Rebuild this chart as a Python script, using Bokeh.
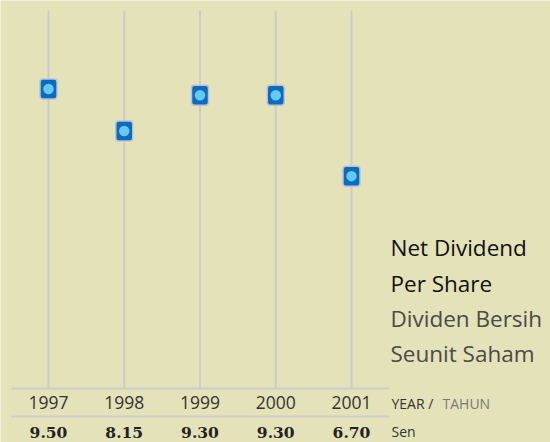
from bokeh.plotting import figure
from bokeh.models import ColumnDataSource, Range1d
from bokeh.embed import file_html
from bokeh.resources import INLINE
from bokeh.core.properties import value

years = [1997, 1998, 1999, 2000, 2001]
year_labels = ["1997", "1998", "1999", "2000", "2001"]
dividends = [9.50, 8.15, 9.30, 9.30, 6.70]
value_labels = ["9.50", "8.15", "9.30", "9.30", "6.70"]
title_en = ["Net Dividend", "Per Share"]
title_my = ["Dividen Bersih", "Seunit Saham"]

BG = "#e4e2b8"
W, H = 550, 442
px_x = 75.75
px_y = 31.1
x0 = 1997 - 48 / px_x
y0 = -58 / px_y

def xpix(img_x):
    return x0 + img_x / px_x

def ypix(img_y):
    return y0 + (H - img_y) / px_y

p = figure(width=W, height=H, output_backend="svg", toolbar_location=None,
           x_range=Range1d(x0, x0 + W / px_x), y_range=Range1d(y0, y0 + H / px_y),
           min_border=0, outline_line_color=None,
           background_fill_color=BG, border_fill_color=BG)
p.axis.visible = False
p.grid.visible = False

src = ColumnDataSource(dict(x=years, y=dividends, yl=year_labels, vl=value_labels))

p.segment(x0=years, x1=years, y0=[ypix(10)] * 5, y1=[ypix(388)] * 5,
          line_color="#cbcbcb", line_width=2)

p.segment(x0=[xpix(11)] * 2, x1=[xpix(389)] * 2, y0=[ypix(388), ypix(416)],
          y1=[ypix(388), ypix(416)], line_color="#cbcbcb", line_width=2)

p.rect(x="x", y="y", width=17, height=20, width_units="screen", height_units="screen",
       source=src, fill_color="#0b6cbd", line_color="#b9c2d6", line_width=1.5,
       border_radius=3)
p.scatter(x="x", y="y", size=10.5, source=src, fill_color="#66c9f5", line_color=None)

FONT = value("Open Sans")
p.text(x="x", y=ypix(402), text="yl", source=src, text_align="center", text_baseline="middle",
       text_font=FONT, text_font_size="17.5px", text_color="#333333")
p.text(x="x", y=ypix(432), text="vl", source=src, text_align="center", text_baseline="middle",
       text_font=value("DejaVu Serif"), text_font_size="15.5px", text_font_style="bold",
       text_color="#222222")

p.text(x=[xpix(391)], y=[ypix(403)], text=["YEAR /"], text_baseline="middle",
       text_font=FONT, text_font_size="14px", text_color="#333333")
p.text(x=[xpix(442)], y=[ypix(403)], text=["TAHUN"], text_baseline="middle",
       text_font=FONT, text_font_size="14px", text_color="#7a7a7a")
p.text(x=[xpix(391)], y=[ypix(431)], text=["Sen"], text_baseline="middle",
       text_font=FONT, text_font_size="14px", text_color="#333333")

p.text(x=[xpix(390)] * 2, y=[ypix(247), ypix(283)], text=title_en, text_baseline="middle",
       text_font=FONT, text_font_size="22.5px", text_color="#111111")
p.text(x=[xpix(390)] * 2, y=[ypix(318), ypix(353)], text=title_my, text_baseline="middle",
       text_font=FONT, text_font_size="22.5px", text_color="#4a4a4a")

html = file_html(p, INLINE)
html = html.replace("<body>", '<body style="margin:0;background-color:%s">' % BG, 1)
open("out.html", "w").write(html)
